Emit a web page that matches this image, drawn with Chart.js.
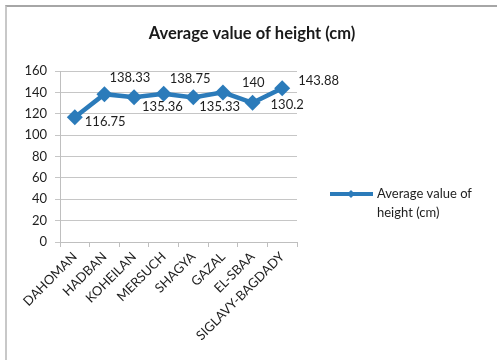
<!DOCTYPE html>
<html>
<head>
<meta charset="utf-8">
<script src="https://cdn.jsdelivr.net/npm/chart.js@4"></script>
<style>
  html, body { margin: 0; padding: 0; background: #fff; }
  #wrap { position: relative; width: 497px; height: 360px; overflow: hidden; }
  #frame { position: absolute; left: 5px; top: 5px; width: 600px; height: 500px;
           border-left: 2px solid #c8c8c8; border-top: 2px solid #a6a6a6; }
  canvas { position: absolute; left: 0; top: 0; }
</style>
</head>
<body>
<div id="wrap">
  <div id="frame"></div>
  <canvas id="myChart" width="497" height="360"></canvas>
</div>
<script>
// data
var breeds = ["DAHOMAN", "HADBAN", "KOHEILAN", "MERSUCH", "SHAGYA", "GAZAL", "EL-SBAA", "SIGLAVY-BAGDADY"];
var avgHeight = [116.75, 138.33, 135.36, 138.75, 135.33, 140, 130.2, 143.88];
var seriesName = "Average value of height (cm)";
var chartTitle = "Average value of height (cm)";

var blue = '#2B7BBA';
var font = 'Lato';

// label offsets from each point (dx, dy) as Excel placed them
var labelShift = [[10, 5], [5, -16], [8, 9], [6, -15], [6, 9], [19, -10], [18, 2], [16, -7]];

var extras = {
    id: 'extras',
    afterDatasetsDraw: function (chart) {
        var c = chart.ctx;
        var pts = chart.getDatasetMeta(0).data;
        c.save();
        c.fillStyle = '#1e1e1e';
        c.font = '13px ' + font;
        c.textBaseline = 'middle';
        c.textAlign = 'left';
        pts.forEach(function (p, i) {
            c.fillText(String(avgHeight[i]), p.x + labelShift[i][0], p.y + labelShift[i][1]);
        });
        // title
        c.font = 'bold 16.5px ' + font;
        c.textAlign = 'center';
        c.fillStyle = '#1a1a1a';
        c.fillText(chartTitle, 252, 34);
        // legend
        c.strokeStyle = blue;
        c.lineWidth = 4;
        c.beginPath();
        c.moveTo(330, 194);
        c.lineTo(373, 194);
        c.stroke();
        c.fillStyle = blue;
        c.beginPath();
        c.moveTo(351, 190); c.lineTo(355, 194); c.lineTo(351, 198); c.lineTo(347, 194);
        c.closePath();
        c.fill();
        c.fillStyle = '#1e1e1e';
        c.font = '13px ' + font;
        c.textAlign = 'left';
        c.fillText('Average value of', 377, 194);
        c.fillText('height (cm)', 377, 213);
        c.restore();
    }
};

var ctx = document.getElementById('myChart').getContext('2d');
var chart = new Chart(ctx, {
    type: 'line',
    data: {
        labels: breeds,
        datasets: [{
            label: seriesName,
            data: avgHeight,
            borderColor: blue,
            backgroundColor: blue,
            borderWidth: 4.5,
            pointStyle: 'rectRot',
            pointRadius: 8,
            pointBorderWidth: 0,
            tension: 0
        }]
    },
    options: {
        responsive: false,
        animation: false,
        layout: { padding: { left: 10, top: 71, right: 200, bottom: 0 } },
        plugins: {
            legend: { display: false },
            title: { display: false },
            tooltip: { enabled: false }
        },
        scales: {
            x: {
                offset: true,
                grid: { offset: true, drawOnChartArea: false, tickLength: 5, color: '#bfbfbf' },
                border: { color: '#bfbfbf', width: 1 },
                ticks: {
                    minRotation: 45, maxRotation: 45, autoSkip: false,
                    color: '#1e1e1e', font: { family: font, size: 13 }, padding: 2
                },
                afterFit: function (s) { s.height = 118; }
            },
            y: {
                min: 0, max: 160,
                ticks: { stepSize: 20, color: '#1e1e1e', font: { family: font, size: 13 }, padding: 8 },
                grid: { color: '#c6c6c6', tickLength: 5 },
                border: { color: '#bfbfbf', width: 1 },
                afterFit: function (s) { s.width = 50; }
            }
        }
    },
    plugins: [extras]
});
</script>
</body>
</html>
